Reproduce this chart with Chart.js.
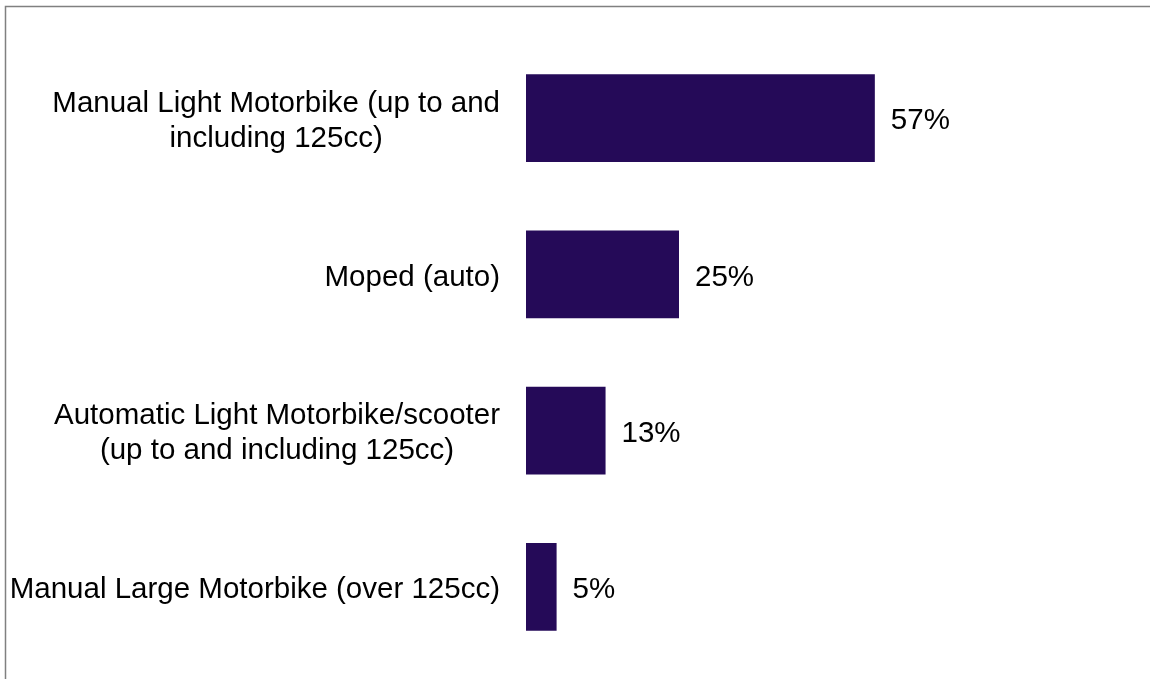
<!DOCTYPE html>
<html>
<head>
<meta charset="utf-8">
<script src="https://cdn.jsdelivr.net/npm/chart.js@4"></script>
<style>
  body { margin: 0; background: #fff; }
  canvas { display: block; }
</style>
</head>
<body>
<canvas id="chart1" width="1150" height="679"></canvas>
<script>
const categories = [
  ['Manual Light Motorbike (up to and', 'including 125cc)'],
  ['Moped (auto)'],
  ['Automatic Light Motorbike/scooter', '(up to and including 125cc)'],
  ['Manual Large Motorbike (over 125cc)']
];
const shares = [57, 25, 13, 5];

const FONT = '29.5px "Liberation Sans", Arial, sans-serif';

// labels + % values drawn next to the bars, and the thin frame
const labelPlugin = {
  id: 'labels',
  beforeDraw(chart) {
    const ctx = chart.ctx;
    ctx.save();
    ctx.strokeStyle = '#808080';
    ctx.lineWidth = 1.5;
    ctx.beginPath();
    ctx.moveTo(5.5, chart.height);
    ctx.lineTo(5.5, 6.5);
    ctx.lineTo(chart.width, 6.5);
    ctx.stroke();
    ctx.restore();
  },
  afterDatasetsDraw(chart) {
    const ctx = chart.ctx;
    const y = chart.scales.y;
    const meta = chart.getDatasetMeta(0);
    ctx.save();
    ctx.font = FONT;
    ctx.fillStyle = '#000';
    ctx.textBaseline = 'middle';
    categories.forEach((lines, i) => {
      const cy = y.getPixelForValue(i) + 3;
      const maxW = Math.max(...lines.map(l => ctx.measureText(l).width));
      const cx = 500 - maxW / 2;
      ctx.textAlign = 'center';
      lines.forEach((l, j) => {
        ctx.fillText(l, cx, cy + (j - (lines.length - 1) / 2) * 35);
      });
      ctx.textAlign = 'left';
      ctx.fillText(shares[i] + '%', meta.data[i].x + 16, cy);
    });
    ctx.restore();
  }
};

new Chart(document.getElementById('chart1').getContext('2d'), {
  type: 'bar',
  data: {
    labels: categories,
    datasets: [{
      data: shares,
      backgroundColor: '#250a58',
      borderWidth: 0,
      categoryPercentage: 1,
      barPercentage: 0.5625
    }]
  },
  options: {
    indexAxis: 'y',
    responsive: false,
    animation: false,
    layout: { padding: { left: 526, right: 12, top: 40, bottom: 14 } },
    plugins: { legend: { display: false }, tooltip: { enabled: false } },
    scales: {
      x: { display: false, min: 0, max: 100 },
      y: { display: false }
    }
  },
  plugins: [labelPlugin]
});
</script>
</body>
</html>
